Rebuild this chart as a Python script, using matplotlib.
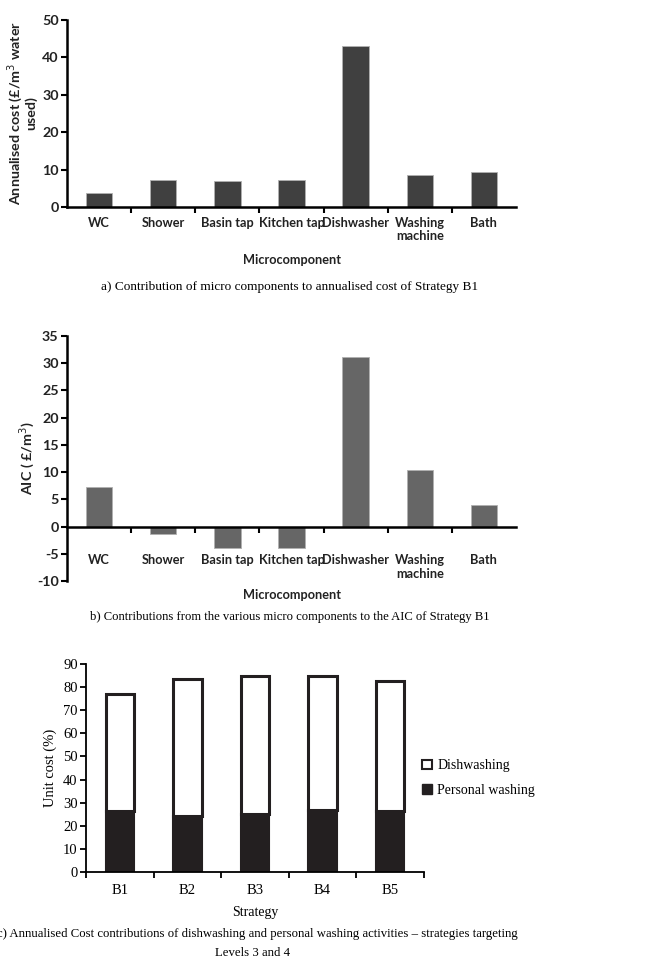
import numpy as np
import matplotlib.pyplot as plt
from matplotlib import font_manager
from matplotlib.patches import Patch

plt.rcParams["axes.unicode_minus"] = False

# ---- data ----
components = ["WC", "Shower", "Basin tap", "Kitchen tap", "Dishwasher",
              "Washing\nmachine", "Bath"]
annual_cost = [3.7, 7.3, 6.9, 7.1, 43.1, 8.5, 9.3]
aic = [7.2, -1.4, -4.0, -4.0, 31.1, 10.4, 3.9]

strategies = ["B1", "B2", "B3", "B4", "B5"]
personal_washing = [26.2, 24.1, 25.1, 26.8, 26.4]
dishwashing = [50.9, 59.5, 59.6, 57.8, 56.3]

# pick a sans with a real bold face as stand-in for Calibri bold
SANS = "Open Sans"
for cand in ["Lato", "Roboto", "Open Sans"]:
    faces = [f for f in font_manager.fontManager.ttflist if f.name == cand]
    if any((f.weight if isinstance(f.weight, int) else 700 if "bold" in str(f.weight) else 400) >= 600
           for f in faces):
        SANS = cand
        break
FS = 9.2 if SANS != "Open Sans" else 8.4
FS_Y = FS * 1.12
SERIF = "Liberation Serif"
INK = "#222222"

fig = plt.figure(figsize=(6.49, 9.58), dpi=100)
W, H = 649.0, 958.0


def box(l, t, r, b):
    return [l / W, 1 - b / H, (r - l) / W, (b - t) / H]


def micro_axes(ax, vals, color, ylim, step, ylabel, pad):
    # spine position first: moving it rebuilds the ticks
    for s in ["top", "right"]:
        ax.spines[s].set_visible(False)
    ax.spines["left"].set_linewidth(1.8)
    ax.spines["bottom"].set_linewidth(1.8)
    ax.spines["bottom"].set_position(("data", 0))

    x = np.arange(len(vals))
    ax.bar(x, vals, width=0.41, color=color, edgecolor="#b0b0b0", linewidth=0.6, zorder=2)
    ax.set_xlim(-0.5, len(vals) - 0.5)
    ax.set_ylim(*ylim)
    ax.set_yticks(np.arange(ylim[0], ylim[1] + 0.1, step))
    ax.set_xticks(x)
    ax.set_xticklabels(components, linespacing=1.15)
    ax.set_xticks(np.arange(0.5, len(vals) - 0.5, 1.0), minor=True)
    ax.tick_params(axis="x", which="major", length=0, pad=pad)
    ax.tick_params(axis="x", which="minor", length=4, width=1.5, direction="out")
    ax.tick_params(axis="y", length=4, width=1.5, direction="out", pad=2)
    for lab in ax.get_xticklabels():
        lab.set_fontfamily(SANS)
        lab.set_fontweight("bold")
        lab.set_fontsize(FS)
        lab.set_color(INK)
    for lab in ax.get_yticklabels():
        lab.set_fontfamily(SANS)
        lab.set_fontweight("bold")
        lab.set_fontsize(FS_Y)
        lab.set_color(INK)
    ax.set_ylabel(ylabel, fontfamily=SANS, fontweight="bold", fontsize=FS_Y,
                  color=INK, linespacing=1.0)
    ax.yaxis.set_label_coords(-0.066, 0.5)


# ---- panel a ----
ax1 = fig.add_axes(box(67, 20, 516, 207))
micro_axes(ax1, annual_cost, "#404040", (0, 50), 10,
           "Annualised cost (£/m$^3$ water\nused)", 7)
fig.text(292 / W, 1 - 260 / H, "Microcomponent", ha="center", va="center",
         fontfamily=SANS, fontweight="bold", fontsize=FS, color=INK)
fig.text(290 / W, 1 - 287 / H,
         "a) Contribution of micro components to annualised cost of Strategy B1",
         ha="center", va="center", fontfamily=SERIF, fontsize=9.5)

# ---- panel b ----
ax2 = fig.add_axes(box(67, 336, 516, 581))
micro_axes(ax2, aic, "#666666", (-10, 35), 5, "AIC ( £/m$^3$)", 20)
fig.text(292 / W, 1 - 595 / H, "Microcomponent", ha="center", va="center",
         fontfamily=SANS, fontweight="bold", fontsize=FS, color=INK)
fig.text(290 / W, 1 - 617 / H,
         "b) Contributions from the various micro components to the AIC of Strategy B1",
         ha="center", va="center", fontfamily=SERIF, fontsize=9.1)

# ---- panel c ----
ax3 = fig.add_axes(box(86, 664, 424, 872))
xs = np.arange(len(strategies))
ax3.bar(xs, personal_washing, width=0.42, color="#231f20", edgecolor="#231f20",
        linewidth=1.5, label="Personal washing", zorder=2)
ax3.bar(xs, dishwashing, width=0.42, bottom=personal_washing, color="white",
        edgecolor="#231f20", linewidth=2.2, label="Dishwashing", zorder=2)
ax3.set_xlim(-0.5, len(strategies) - 0.5)
ax3.set_ylim(0, 90)
ax3.set_yticks(np.arange(0, 91, 10))
ax3.set_xticks(xs)
ax3.set_xticklabels(strategies)
ax3.set_xticks(np.arange(-0.5, len(strategies), 1.0), minor=True)
ax3.tick_params(axis="x", which="major", length=0, pad=9)
ax3.tick_params(axis="x", which="minor", length=4, width=1.3, direction="out")
ax3.tick_params(axis="y", length=4, width=1.3, direction="out", pad=2)
for lab in ax3.get_xticklabels() + ax3.get_yticklabels():
    lab.set_fontfamily(SERIF)
    lab.set_fontsize(10.5)
for s in ["top", "right"]:
    ax3.spines[s].set_visible(False)
ax3.spines["left"].set_linewidth(1.3)
ax3.spines["bottom"].set_linewidth(1.3)
ax3.set_ylabel("Unit cost (%)", fontfamily=SERIF, fontsize=10.5, labelpad=4)
ax3.set_xlabel("Strategy", fontfamily=SERIF, fontsize=10, labelpad=6)

handles = [Patch(facecolor="white", edgecolor="#231f20", linewidth=1.5, label="Dishwashing"),
           Patch(facecolor="#231f20", edgecolor="#231f20", label="Personal washing")]
fig.legend(handles=handles, loc="center left", bbox_to_anchor=(422 / W, 1 - 778 / H),
           frameon=False, prop={"family": SERIF, "size": 10},
           handlelength=0.7, handleheight=0.7, handletextpad=0.4, labelspacing=0.8,
           borderaxespad=0, borderpad=0)

fig.text(257 / W, 1 - 934 / H,
         "c) Annualised Cost contributions of dishwashing and personal washing activities \u2013 strategies targeting",
         ha="center", va="center", fontfamily=SERIF, fontsize=9.2)
fig.text(253 / W, 1 - 953 / H, "Levels 3 and 4",
         ha="center", va="center", fontfamily=SERIF, fontsize=9.2)

fig.savefig("out.png", dpi=100)
